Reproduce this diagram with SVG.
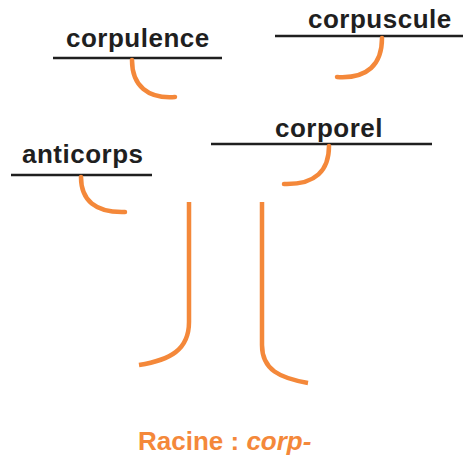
<svg xmlns="http://www.w3.org/2000/svg" width="463" height="459" viewBox="0 0 463 459">
<style>
.w{font-family:"Liberation Sans",Arial,sans-serif;font-weight:bold;font-size:26px;letter-spacing:0.5px;fill:#1f1f1f}
.ul{stroke:#1f1f1f;stroke-width:2.5;fill:none}
.hk{stroke:#F4883A;stroke-width:4.5;fill:none;stroke-linecap:round}
.tr{stroke:#F4883A;stroke-width:4.5;fill:none}
.rc{font-family:"Liberation Sans",Arial,sans-serif;font-weight:bold;font-size:26px;fill:#F4883A}
</style>
<rect width="463" height="459" fill="#fff"/>
<g id="corpulence">
<text class="w" x="66" y="47">corpulence</text>
<line class="ul" x1="53" y1="58" x2="222" y2="58"/>
</g>
<g id="corpuscule">
<text class="w" x="308" y="28">corpuscule</text>
<line class="ul" x1="275" y1="36" x2="463" y2="36"/>
</g>
<g id="anticorps">
<text class="w" x="22" y="163">anticorps</text>
<line class="ul" x1="11" y1="175" x2="152" y2="175"/>
</g>
<g id="corporel">
<text class="w" x="275" y="137">corporel</text>
<line class="ul" x1="211" y1="144" x2="432" y2="144"/>
</g>
<g id="racine">
<text class="rc" x="138" y="450">Racine : <tspan font-style="italic">corp-</tspan></text>
</g>
<g id="connectors">
<path class="hk" d="M132,60 C132,86 148,99 175,97"/>
<path class="hk" d="M382,38 C382,64 368,79 337,77"/>
<path class="hk" d="M81,177 C81,200 95,213 125,212"/>
<path class="hk" d="M329,146 C329,170 316,185 284,184"/>
<path class="tr" d="M189,202 L189,322 C189,350 170,360 139,365"/>
<path class="tr" d="M262,202 L262,345 C262,370 280,378 308,383"/>
</g>
</svg>
